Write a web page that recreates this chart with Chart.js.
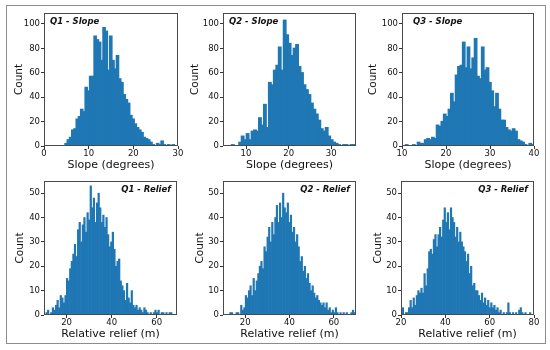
<!DOCTYPE html>
<html>
<head>
<meta charset="utf-8">
<script src="https://cdn.jsdelivr.net/npm/chart.js@4.4.1/dist/chart.umd.min.js"></script>
<style>
  html, body { margin: 0; padding: 0; background: #fff; }
  #wrap { position: relative; width: 550px; height: 350px; overflow: hidden; }
  #frame { position: absolute; left: 6px; top: 5px; width: 538px; height: 337px; border: 1px solid #8c8c8c; }
  canvas { position: absolute; }
</style>
</head>
<body>
<div id="wrap"><div id="frame"></div></div>
<script>
// ---------- data (counts per bin) ----------
const q1SlopeBinStart = 4.7, q1SlopeBinWidth = 0.5;
const q1SlopeCounts = [2,5,7,13,14,22,24,30,28,48, 45,57,57,90,87,85,70,97,94,62,
  90,70,63,74,55,52,42,38,35,25, 22,18,15,13,11,7,6,5,3,1, 0,2,1,4,1,0,1,0,1];

const q2SlopeBinStart = 6.6, q2SlopeBinWidth = 0.58;
const q2SlopeCounts = [1,0,0,3,8,5,10,5,12,13, 12,23,17,34,15,52,50,62,66,81,
  62,103,91,84,74,80,83,65,60,50, 46,42,35,30,26,21,14,12,15,8, 5,3,2,1,0,1,1,0,1,1];

const q3SlopeBinStart = 10.8, q3SlopeBinWidth = 0.54;
const q3SlopeCounts = [1,0,0,1,0,3,2,2,5,6, 5,7,6,17,16,20,26,24,30,43,
  36,58,65,66,85,64,81,63,72,88, 57,55,81,62,64,52,45,32,43,30,
  21,21,15,13,12,14,12,5,4,3, 1,0,2,1];

const q1ReliefBinStart = 10.8, q1ReliefBinWidth = 0.7;
const q1ReliefCounts = [1,2,0,1,3,2,4,6,3,8, 7,5,8,15,14,19,22,25,29,24,
  35,38,30,37,40,34,42,39,53,44, 48,38,46,50,44,38,41,36,40,33,
  28,30,34,27,20,22,23,14,12,10, 6,13,7,5,10,4,3,4,2,3,
  2,1,3,2,1,0,1,0,1,2, 1,2,0,1,1,0,1,0,1,1];

const q2ReliefBinStart = 13, q2ReliefBinWidth = 0.7;
const q2ReliefCounts = [1,1,0,0,1,1,0,4,2,3, 8,7,10,12,8,15,10,14,17,20,
  22,19,28,26,32,36,30,38,33,40, 45,38,46,40,50,44,42,46,38,41,
  34,36,30,33,28,22,24,18,20,15, 17,13,10,12,9,7,8,6,5,4,
  5,3,5,2,3,1,2,1,3,1, 0,1,0,1,0,1,0,0,1,2,1];

const q3ReliefBinStart = 20.5, q3ReliefBinWidth = 0.7;
const q3ReliefCounts = [3,0,1,1,3,6,3,7,4,8, 10,9,11,9,17,12,19,26,27,25,
  31,33,28,33,36,32,39,44,38,42, 35,44,40,38,32,36,30,34,30,28,
  26,22,25,17,20,12,13,10,10,8, 6,9,5,7,4,6,3,5,3,4,
  2,3,1,2,0,1,0,1,5,1, 0,1,0,1,0,2,3,1,0,1, 0,0,1];

// tick labels
const slopeYTicks = [0, 20, 40, 60, 80, 100];
const reliefYTicks = [0, 10, 20, 30, 40, 50];
const q1SlopeXTicks = [0, 10, 20, 30];
const q2SlopeXTicks = [10, 20, 30];
const q3SlopeXTicks = [10, 20, 30, 40];
const q1ReliefXTicks = [20, 40, 60];
const q2ReliefXTicks = [20, 40, 60];
const q3ReliefXTicks = [20, 40, 60, 80];

// ---------- panels ----------
const FONT = '"DejaVu Sans", sans-serif';
const BLUE = '#1f77b4';
const INK = '#111';

const panels = [
  { title: 'Q1 - Slope', counts: q1SlopeCounts, start: q1SlopeBinStart, bw: q1SlopeBinWidth,
    xMin: 0, xMax: 30, xTicks: q1SlopeXTicks, yMax: 109, yTicks: slopeYTicks, xLabel: 'Slope (degrees)',
    box: [44, 13, 178, 146], countOff: 25, qAlign: 'left', qDx: 6, inflate: 0.7 },
  { title: 'Q2 - Slope', counts: q2SlopeCounts, start: q2SlopeBinStart, bw: q2SlopeBinWidth,
    xMin: 4.6, xMax: 35.8, xTicks: q2SlopeXTicks, yMax: 109, yTicks: slopeYTicks, xLabel: 'Slope (degrees)',
    box: [223, 13, 356, 146], countOff: 28.5, qAlign: 'left', qDx: 6, inflate: 0.7 },
  { title: 'Q3 - Slope', counts: q3SlopeCounts, start: q3SlopeBinStart, bw: q3SlopeBinWidth,
    xMin: 10, xMax: 40, xTicks: q3SlopeXTicks, yMax: 109, yTicks: slopeYTicks, xLabel: 'Slope (degrees)',
    box: [402, 13, 534, 146], countOff: 29.5, qAlign: 'left', qDx: 11, inflate: 0.7 },
  { title: 'Q1 - Relief', counts: q1ReliefCounts, start: q1ReliefBinStart, bw: q1ReliefBinWidth,
    xMin: 10, xMax: 69, xTicks: q1ReliefXTicks, yMax: 55, yTicks: reliefYTicks, xLabel: 'Relative relief (m)',
    box: [44, 181, 177, 315], countOff: 24.5, qAlign: 'right', qDx: 6, inflate: 'auto' },
  { title: 'Q2 - Relief', counts: q2ReliefCounts, start: q2ReliefBinStart, bw: q2ReliefBinWidth,
    xMin: 10, xMax: 70, xTicks: q2ReliefXTicks, yMax: 55, yTicks: reliefYTicks, xLabel: 'Relative relief (m)',
    box: [223, 181, 356, 315], countOff: 23.5, qAlign: 'right', qDx: 6, inflate: 'auto' },
  { title: 'Q3 - Relief', counts: q3ReliefCounts, start: q3ReliefBinStart, bw: q3ReliefBinWidth,
    xMin: 20, xMax: 80, xTicks: q3ReliefXTicks, yMax: 55, yTicks: reliefYTicks, xLabel: 'Relative relief (m)',
    box: [401, 181, 534, 315], countOff: 23.5, qAlign: 'right', qDx: 6, inflate: 'auto' }
];

const Y_W = 40, X_H = 28, PAD_T = 2, PAD_R = 8;

// axes frame + bold italic tag inside the plot
const framePlugin = {
  id: 'frameAndTag',
  afterDraw(chart, args, opts) {
    const { ctx, chartArea: a } = chart;
    ctx.save();
    ctx.strokeStyle = '#4a4a4a';
    ctx.lineWidth = 1;
    ctx.strokeRect(a.left + 0.5, a.top + 0.5, a.right - a.left - 1, a.bottom - a.top - 1);
    ctx.font = 'italic bold 8.5px ' + FONT;
    ctx.fillStyle = INK;
    ctx.textBaseline = 'middle';
    if (opts.align === 'left') {
      ctx.textAlign = 'left';
      ctx.fillText(opts.text, a.left + opts.dx, a.top + 9);
    } else {
      ctx.textAlign = 'right';
      ctx.fillText(opts.text, a.right - opts.dx, a.top + 9);
    }
    ctx.restore();
  }
};

const wrap = document.getElementById('wrap');

panels.forEach(p => {
  const [l, t, r, b] = p.box;
  const cv = document.createElement('canvas');
  const w = (r - l) + Y_W + PAD_R;
  const h = (b - t) + PAD_T + X_H;
  cv.width = w; cv.height = h;
  cv.style.width = w + 'px'; cv.style.height = h + 'px';
  cv.style.left = (l - Y_W) + 'px';
  cv.style.top = (t - PAD_T) + 'px';
  wrap.appendChild(cv);

  const points = p.counts.map((c, i) => ({ x: p.start + p.bw * (i + 0.5), y: c }));

  new Chart(cv, {
    type: 'bar',
    data: {
      datasets: [{
        data: points,
        backgroundColor: BLUE,
        borderWidth: 0,
        barPercentage: 1,
        categoryPercentage: 1,
        inflateAmount: p.inflate
      }]
    },
    options: {
      responsive: false,
      animation: false,
      devicePixelRatio: 1,
      layout: { padding: { left: 0, top: PAD_T, right: PAD_R, bottom: 0 } },
      plugins: {
        legend: { display: false },
        tooltip: { enabled: false },
        frameAndTag: { text: p.title, align: p.qAlign, dx: p.qDx }
      },
      scales: {
        x: {
          type: 'linear',
          min: p.xMin, max: p.xMax,
          offset: false,
          afterBuildTicks: s => { s.ticks = p.xTicks.map(v => ({ value: v })); },
          afterFit: s => { s.height = X_H; s.paddingLeft = 0; s.paddingRight = 0; },
          grid: { offset: false, drawOnChartArea: false, drawTicks: true, tickLength: 3, color: '#333' },
          border: { display: false },
          ticks: { font: { family: FONT, size: 8.5 }, color: INK, padding: 0, maxRotation: 0, autoSkip: false },
          title: { display: true, text: p.xLabel, font: { family: FONT, size: 11 }, color: INK,
                   padding: { top: 0, bottom: 2.4 } }
        },
        y: {
          min: 0, max: p.yMax,
          afterBuildTicks: s => { s.ticks = p.yTicks.map(v => ({ value: v })); },
          afterFit: s => { s.width = Y_W; s.paddingTop = 0; s.paddingBottom = 0; },
          grid: { drawOnChartArea: false, drawTicks: true, tickLength: 3, color: '#333' },
          border: { display: false },
          ticks: { font: { family: FONT, size: 8.5 }, color: INK, padding: 1 },
          title: { display: true, text: 'Count', font: { family: FONT, size: 10.5 }, color: INK,
                   padding: { top: 34 - p.countOff, bottom: 0 } }
        }
      }
    },
    plugins: [framePlugin]
  });
});
</script>
</body>
</html>
